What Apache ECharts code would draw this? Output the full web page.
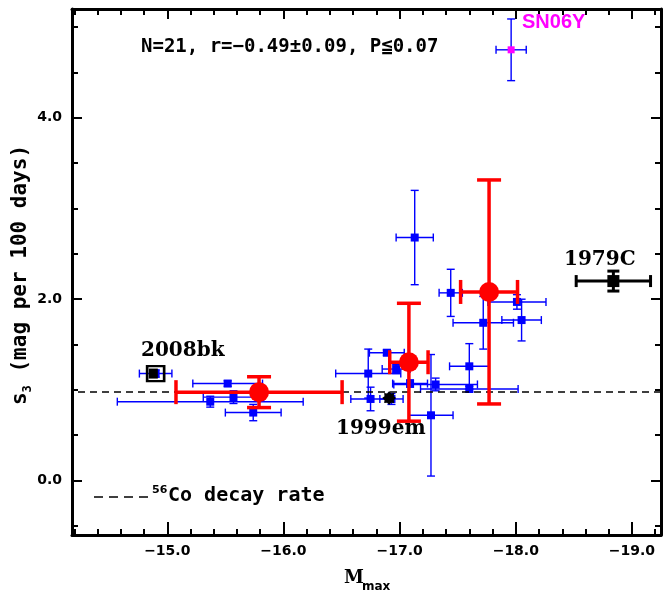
<!DOCTYPE html>
<html><head><meta charset="utf-8">
<script src="https://cdn.jsdelivr.net/npm/echarts@6/dist/echarts.min.js"></script>
<style>html,body{margin:0;padding:0;background:#fff}#c{width:663px;height:593px}</style>
</head><body><div id="c"></div>
<script>
// ---------- data ----------
const xMajorTicks = [-15, -16, -17, -18, -19];
const xMinorTicks = [-14.2, -14.4, -14.6, -14.8, -15.2, -15.4, -15.6, -15.8, -16.2, -16.4, -16.6, -16.8,
  -17.2, -17.4, -17.6, -17.8, -18.2, -18.4, -18.6, -18.8, -19.2];
const yMajorTicks = [0, 2, 4];
const yMinorTicks = [-0.5, 0.5, 1, 1.5, 2.5, 3, 3.5, 4.5, 5];

// individual SNe (blue)
const blueM    = [-17.13, -17.44, -18.01, -18.05, -17.72, -17.60, -17.60, -16.73, -16.75, -16.89, -16.97, -17.09, -17.31, -17.27, -16.93, -15.52, -15.57, -15.37, -15.74, -14.90];
const blueS    = [2.68, 2.07, 1.97, 1.77, 1.74, 1.26, 1.01, 1.18, 0.90, 1.41, 1.23, 1.07, 1.06, 0.72, 0.90, 1.07, 0.92, 0.87, 0.75, 1.18];
const blueMerr = [0.16, 0.10, 0.25, 0.17, 0.26, 0.17, 0.42, 0.28, 0.17, 0.15, 0.12, 0.15, 0.36, 0.19, 0.10, 0.30, 0.26, 0.80, 0.24, 0.14];
const blueSerr = [0.52, 0.26, 0.08, 0.23, 0.29, 0.25, 0.03, 0.27, 0.13, 0.03, 0.05, 0.04, 0.07, 0.67, 0.06, 0.03, 0.07, 0.06, 0.09, 0.04];

// SN06Y
const sn06yM = [-17.96], sn06yS = [4.75], sn06yMerr = [0.13], sn06ySerr = [0.34];
// binned means (red)
const redM    = [-15.79, -17.08, -17.77];
const redS    = [0.975, 1.305, 2.08];
const redMerr = [0.715, 0.165, 0.245];
const redSerr = [0.17, 0.65, 1.235];
// 1979C
const c79M = [-18.84], c79S = [2.20], c79Merr = [0.32], c79Serr = [0.11];
// 1999em
const em99M = [-16.91], em99S = [0.91];
// 2008bk
const bk08M = [-14.90], bk08S = [1.18];
// 56Co decay rate
const decayRate = 0.98;

const xMin = -19.25, xMax = -14.18, yMin = -0.6, yMax = 5.2;

// ---------- helpers ----------
function rows(m, s, dm, ds) { return m.map((v, i) => [v, s[i], dm ? dm[i] : 0, ds ? ds[i] : 0]); }
function errorBars(color, lw, cap) {
  return function (params, api) {
    const m = api.value(0), s = api.value(1), dm = api.value(2), ds = api.value(3);
    const st = { stroke: color, lineWidth: lw, fill: null };
    const ch = [];
    const L = (x1, y1, x2, y2) => ch.push({ type: 'line', shape: { x1, y1, x2, y2 }, style: st });
    if (dm > 0) {
      const l = api.coord([m - dm, s]), r = api.coord([m + dm, s]);
      L(l[0], l[1], r[0], r[1]);
      L(l[0], l[1] - cap, l[0], l[1] + cap);
      L(r[0], r[1] - cap, r[0], r[1] + cap);
    }
    if (ds > 0) {
      const t = api.coord([m, s + ds]), b = api.coord([m, s - ds]);
      L(t[0], t[1], b[0], b[1]);
      L(t[0] - cap, t[1], t[0] + cap, t[1]);
      L(b[0] - cap, b[1], b[0] + cap, b[1]);
    }
    return { type: 'group', children: ch };
  };
}
function starPath(n, inner) {
  let d = '';
  for (let k = 0; k < 2 * n; k++) {
    const r = k % 2 === 0 ? 1 : inner;
    const a = Math.PI * k / n;
    d += (k === 0 ? 'M' : 'L') + (r * Math.cos(a)).toFixed(3) + ' ' + (r * Math.sin(a)).toFixed(3);
  }
  return 'path://' + d + 'Z';
}

const tickFont = { color: '#000', fontFamily: 'DejaVu Sans', fontWeight: 'bold', fontSize: 14 };
function xAx(pos, ticks, len, showLabel, showLine) {
  return {
    type: 'value', position: pos, min: xMin, max: xMax, inverse: true,
    axisLine: { show: showLine, onZero: false, lineStyle: { color: '#000', width: 3 } },
    axisTick: { show: true, inside: true, length: len, customValues: ticks, lineStyle: { color: '#000', width: 2 } },
    axisLabel: Object.assign({ show: showLabel, customValues: ticks, margin: 9,
      formatter: v => '\u2212' + Math.abs(v).toFixed(1) }, tickFont),
    splitLine: { show: false }
  };
}
function yAx(pos, ticks, len, showLabel, showLine) {
  return {
    type: 'value', position: pos, min: yMin, max: yMax,
    axisLine: { show: showLine, onZero: false, lineStyle: { color: '#000', width: 3 } },
    axisTick: { show: true, inside: true, length: len, customValues: ticks, lineStyle: { color: '#000', width: 2 } },
    axisLabel: Object.assign({ show: showLabel, customValues: ticks, margin: 10,
      formatter: v => v.toFixed(1) }, tickFont),
    splitLine: { show: false }
  };
}

const chart = echarts.init(document.getElementById('c'));
chart.setOption({
  animation: false,
  backgroundColor: '#fff',
  grid: { left: 72, right: 2, top: 9, bottom: 58, containLabel: false },
  xAxis: [
    xAx('bottom', xMajorTicks, 13, true, true),
    xAx('bottom', xMinorTicks, 6, false, false),
    xAx('top', xMajorTicks, 10, false, true),
    xAx('top', xMinorTicks, 6, false, false)
  ],
  yAxis: [
    yAx('left', yMajorTicks, 10, true, true),
    yAx('left', yMinorTicks, 6, false, false),
    yAx('right', yMajorTicks, 10, false, true),
    yAx('right', yMinorTicks, 6, false, false)
  ],
  series: [
    { type: 'line', data: [], z: 1, silent: true,
      markLine: { silent: true, symbol: ['none', 'none'], label: { show: false },
        lineStyle: { color: '#000', type: [7, 5], width: 1.5, opacity: 1 }, data: [{ yAxis: decayRate }] } },
    { type: 'custom', z: 2, renderItem: errorBars('#0000ff', 1.4, 4), data: rows(blueM, blueS, blueMerr, blueSerr) },
    { type: 'custom', z: 2, renderItem: errorBars('#0000ff', 1.4, 4), data: rows(sn06yM, sn06yS, sn06yMerr, sn06ySerr) },
    { type: 'scatter', z: 3, symbol: 'rect', symbolSize: 8, itemStyle: { color: '#0000ff', opacity: 1 },
      data: blueM.map((m, i) => [m, blueS[i]]) },
    { type: 'scatter', z: 3, symbol: 'rect', symbolSize: 7, itemStyle: { color: '#ff00ff', opacity: 1 },
      data: sn06yM.map((m, i) => [m, sn06yS[i]]) },
    { type: 'scatter', z: 4, symbol: 'rect', symbolSize: [17, 15],
      itemStyle: { color: 'rgba(0,0,0,0)', borderColor: '#000', borderWidth: 2.5, opacity: 1 },
      data: bk08M.map((m, i) => [m, bk08S[i]]) },
    { type: 'scatter', z: 4, symbol: 'rect', symbolSize: [9, 10], itemStyle: { color: '#000', opacity: 1 },
      data: bk08M.map((m, i) => [m + 0.02, bk08S[i]]) },
    { type: 'scatter', z: 4, symbol: starPath(8, 0.72), symbolSize: 14, itemStyle: { color: '#000', opacity: 1 },
      data: em99M.map((m, i) => [m, em99S[i]]) },
    { type: 'custom', z: 4, renderItem: errorBars('#000', 3, 6), data: rows(c79M, c79S, c79Merr, c79Serr) },
    { type: 'scatter', z: 4, symbol: 'rect', symbolSize: 12, itemStyle: { color: '#000', opacity: 1 },
      data: c79M.map((m, i) => [m, c79S[i]]) },
    { type: 'custom', z: 5, renderItem: errorBars('#ff0000', 3.5, 12), data: rows(redM, redS, redMerr, redSerr) },
    { type: 'scatter', z: 6, symbol: 'circle', symbolSize: 20, itemStyle: { color: '#ff0000', opacity: 1 },
      data: redM.map((m, i) => [m, redS[i]]) }
  ],
  graphic: [
    { type: 'text', x: 141, y: 47, z: 10, style: { text: 'N=21, r=\u22120.49\u00b10.09, P\u22660.07',
        font: 'bold 19px "DejaVu Sans Mono"', fill: '#000', textAlign: 'left', textVerticalAlign: 'middle' } },
    { type: 'text', x: 141, y: 351, z: 10, style: { text: '2008bk', font: 'bold 20px "DejaVu Serif"', fill: '#000',
        textAlign: 'left', textVerticalAlign: 'middle' } },
    { type: 'text', x: 336, y: 429, z: 10, style: { text: '1999em', font: 'bold 20px "DejaVu Serif"', fill: '#000',
        textAlign: 'left', textVerticalAlign: 'middle' } },
    { type: 'text', x: 564, y: 260, z: 10, style: { text: '1979C', font: 'bold 20px "DejaVu Serif"', fill: '#000',
        textAlign: 'left', textVerticalAlign: 'middle' } },
    { type: 'text', x: 522, y: 22, z: 10, style: { text: 'SN06Y', font: 'bold 20px "Liberation Sans"', fill: '#ff00ff',
        textAlign: 'left', textVerticalAlign: 'middle' } },
    { type: 'line', z: 10, shape: { x1: 94, y1: 497, x2: 152, y2: 497 },
      style: { stroke: '#000', lineWidth: 1.5, lineDash: [9, 6] } },
    { type: 'text', x: 152, y: 490, z: 10, style: { text: '56', font: 'bold 11px "DejaVu Sans"', fill: '#000',
        textAlign: 'left', textVerticalAlign: 'middle' } },
    { type: 'text', x: 168, y: 496, z: 10, style: { text: 'Co decay rate', font: 'bold 20px "DejaVu Sans Mono"', fill: '#000',
        textAlign: 'left', textVerticalAlign: 'middle' } },
    { type: 'text', x: 344, y: 578, z: 10, style: { text: 'M', font: 'bold 18px "DejaVu Serif"', fill: '#000',
        textAlign: 'left', textVerticalAlign: 'middle' } },
    { type: 'text', x: 362, y: 587, z: 10, style: { text: 'max', font: 'bold 12px "DejaVu Sans"', fill: '#000',
        textAlign: 'left', textVerticalAlign: 'middle' } },
    { type: 'text', x: 21, y: 275, rotation: Math.PI / 2, z: 10,
      style: { text: '{a|s}{b|3}{a| (mag per 100 days)}', textAlign: 'center', textVerticalAlign: 'middle',
        rich: {
          a: { fontFamily: 'DejaVu Sans Mono', fontWeight: 'bold', fontSize: 21, lineHeight: 26, fill: '#000', color: '#000' },
          b: { fontFamily: 'DejaVu Sans Mono', fontWeight: 'bold', fontSize: 12, lineHeight: 12, verticalAlign: 'bottom', fill: '#000', color: '#000' }
        } } }
  ]
});
</script>
</body></html>
